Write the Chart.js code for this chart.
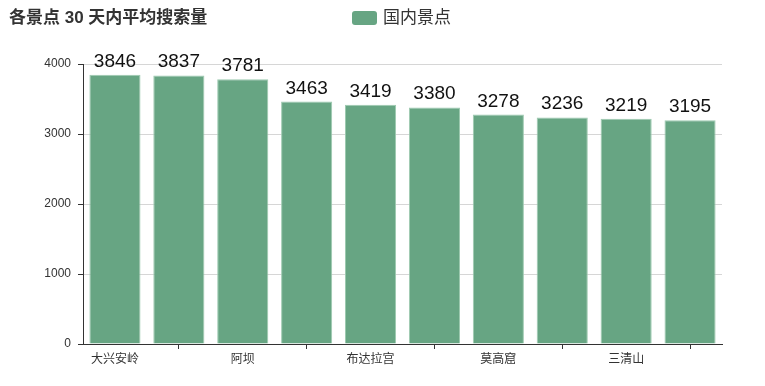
<!DOCTYPE html>
<html>
<head>
<meta charset="utf-8">
<script src="https://cdn.jsdelivr.net/npm/chart.js@4/dist/chart.umd.min.js"></script>
<style>
  html, body { margin: 0; padding: 0; background: #fff; }
  #wrap { position: relative; width: 765px; height: 386px; }
</style>
</head>
<body>
<div id="wrap"><canvas id="spotChart" width="765" height="386"></canvas></div>
<script>
// chart data (only every other category name is readable in the picture)
const chartTitle = '各景点 30 天内平均搜索量';
const seriesName = '国内景点';
const categories = ['大兴安岭', '', '阿坝', '', '布达拉宫', '', '莫高窟', '', '三清山', ''];
const searchCounts = [3846, 3837, 3781, 3463, 3419, 3380, 3278, 3236, 3219, 3195];
const yTicks = [0, 1000, 2000, 3000, 4000];

const FONT = '"Helvetica Neue", Helvetica, Arial, "Liberation Sans", "Noto Sans CJK SC", sans-serif';
const barColor = '#67a583';

// title + legend drawn on the same row
const headerPlugin = {
    id: 'header',
    afterDraw(chart) {
        const ctx = chart.ctx;
        ctx.save();
        ctx.fillStyle = '#333';
        ctx.font = 'bold 17px ' + FONT;
        ctx.textBaseline = 'middle';
        ctx.textAlign = 'left';
        ctx.fillText(chartTitle, 9, 18);

        // legend box
        ctx.fillStyle = barColor;
        ctx.beginPath();
        ctx.roundRect(352, 11, 25, 14, 3);
        ctx.fill();
        ctx.fillStyle = '#333';
        ctx.font = '17px ' + FONT;
        ctx.fillText(seriesName, 383, 18);
        ctx.restore();
    }
};

// value labels above bars
const valueLabels = {
    id: 'valueLabels',
    afterDatasetsDraw(chart) {
        const ctx = chart.ctx;
        const meta = chart.getDatasetMeta(0);
        ctx.save();
        ctx.fillStyle = '#111';
        ctx.font = '19px ' + FONT;
        ctx.textAlign = 'center';
        ctx.textBaseline = 'alphabetic';
        meta.data.forEach((bar, i) => {
            ctx.fillText(String(searchCounts[i]), bar.x, bar.y - 8);
        });
        ctx.restore();
    }
};

const ctx = document.getElementById('spotChart').getContext('2d');
const chart = new Chart(ctx, {
    type: 'bar',
    data: {
        labels: categories,
        datasets: [{
            label: seriesName,
            data: searchCounts,
            backgroundColor: barColor,
            borderColor: '#9dcab0',
            borderWidth: 1,
            categoryPercentage: 0.8,
            barPercentage: 1
        }]
    },
    options: {
        responsive: false,
        animation: false,
        layout: { padding: { top: 64, left: 0, right: 43, bottom: 0 } },
        plugins: {
            legend: { display: false },
            title: { display: false },
            tooltip: { enabled: false }
        },
        scales: {
            x: {
                offset: true,
                afterFit(scale) { scale.height = 42; },
                border: { display: true, color: '#333', width: 1 },
                grid: {
                    offset: false,
                    drawOnChartArea: false,
                    drawTicks: true,
                    tickLength: 5,
                    color: c => (c.index % 2 === 1 ? '#333' : 'rgba(0,0,0,0)'),
                    tickColor: c => (c.index % 2 === 1 ? '#333' : 'rgba(0,0,0,0)')
                },
                ticks: {
                    autoSkip: false,
                    maxRotation: 0,
                    padding: 3,
                    color: '#333',
                    font: { family: FONT, size: 12 }
                }
            },
            y: {
                min: 0,
                max: 4000,
                afterFit(scale) { scale.width = 83; },
                afterBuildTicks(scale) { scale.ticks = yTicks.map(v => ({ value: v })); },
                border: { display: true, color: '#333', width: 1 },
                grid: {
                    color: '#d6d6d6',
                    tickColor: '#333',
                    tickLength: 5
                },
                ticks: {
                    padding: 7,
                    color: '#333',
                    font: { family: FONT, size: 12 },
                    callback: v => String(v)
                }
            }
        }
    },
    plugins: [valueLabels, headerPlugin]
});
</script>
</body>
</html>
